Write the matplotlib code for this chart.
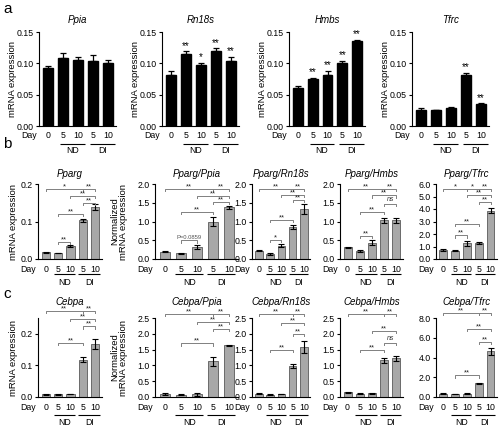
import matplotlib
matplotlib.use('Agg')
import matplotlib.pyplot as plt
import matplotlib.ticker as mticker

plt.rcParams['font.family'] = ['Liberation Sans', 'DejaVu Sans']

W, H = 500, 426

days = ['0', '5', '10', '5', '10']
group_labels = ['ND', 'DI']

# ---------------- panel a (reference genes) ----------------
a_titles = ['Ppia', 'Rn18s', 'Hmbs', 'Tfrc']
a_means = [
    [0.092, 0.108, 0.105, 0.104, 0.100],
    [0.082, 0.115, 0.097, 0.120, 0.104],
    [0.061, 0.075, 0.082, 0.100, 0.135],
    [0.026, 0.025, 0.028, 0.081, 0.035],
]
a_errs = [
    [0.003, 0.008, 0.005, 0.010, 0.006],
    [0.006, 0.004, 0.004, 0.004, 0.006],
    [0.003, 0.002, 0.006, 0.004, 0.002],
    [0.002, 0.001, 0.003, 0.004, 0.001],
]
a_stars = [
    ['', '', '', '', ''],
    ['', '**', '*', '**', '**'],
    ['', '**', '**', '**', '**'],
    ['', '', '', '**', '**'],
]

# ---------------- panel b (Pparg) ----------------
b_titles = ['Pparg', 'Pparg/Ppia', 'Pparg/Rn18s', 'Pparg/Hmbs', 'Pparg/Tfrc']
b_means = [
    [0.018, 0.016, 0.035, 0.103, 0.140],
    [0.20, 0.15, 0.33, 1.00, 1.38],
    [0.22, 0.13, 0.36, 0.85, 1.33],
    [0.31, 0.21, 0.44, 1.03, 1.03],
    [0.72, 0.65, 1.25, 1.27, 3.88],
]
b_errs = [
    [0.001, 0.001, 0.003, 0.005, 0.008],
    [0.02, 0.02, 0.05, 0.13, 0.04],
    [0.01, 0.02, 0.05, 0.06, 0.13],
    [0.02, 0.02, 0.07, 0.07, 0.07],
    [0.05, 0.04, 0.18, 0.08, 0.22],
]
b_brackets = [
    [(0, 3, 0.188, '*'), (3, 4, 0.188, '**'), (2, 4, 0.168, '**'),
     (3, 4, 0.150, '**'), (1, 3, 0.120, '**'), (1, 2, 0.045, '**')],
    [(0, 3, 1.87, '**'), (3, 4, 1.87, '**'), (2, 4, 1.68, '**'),
     (3, 4, 1.52, '**'), (1, 3, 1.25, '**'), (1, 2, 0.50, 'P=0.0859')],
    [(0, 3, 1.87, '**'), (3, 4, 1.87, '**'), (2, 4, 1.72, '**'),
     (3, 4, 1.57, '**'), (1, 3, 1.04, '**'), (1, 2, 0.51, '*')],
    [(0, 3, 1.87, '**'), (3, 4, 1.87, '**'), (2, 4, 1.70, '**'),
     (3, 4, 1.48, 'ns'), (1, 3, 1.25, '**'), (1, 2, 0.62, '**')],
    [(0, 2, 5.6, '*'), (2, 3, 5.6, '*'), (3, 4, 5.6, '**'), (2, 4, 5.15, '**'),
     (3, 4, 4.6, '**'), (1, 3, 2.8, '**'), (1, 2, 1.9, '**')],
]
b_ylims = [0.2, 2.0, 2.0, 2.0, 6.0]
b_ysteps = [0.1, 0.5, 0.5, 0.5, 1.0]

# ---------------- panel c (Cebpa) ----------------
c_titles = ['Cebpa', 'Cebpa/Ppia', 'Cebpa/Rn18s', 'Cebpa/Hmbs', 'Cebpa/Tfrc']
c_means = [
    [0.008, 0.008, 0.009, 0.118, 0.167],
    [0.10, 0.07, 0.08, 1.13, 1.63],
    [0.11, 0.07, 0.09, 0.98, 1.58],
    [0.15, 0.11, 0.12, 1.17, 1.22],
    [0.33, 0.32, 0.32, 1.40, 4.62],
]
c_errs = [
    [0.002, 0.001, 0.001, 0.008, 0.015],
    [0.03, 0.02, 0.06, 0.14, 0.03],
    [0.02, 0.02, 0.01, 0.06, 0.18],
    [0.02, 0.01, 0.01, 0.08, 0.09],
    [0.03, 0.03, 0.04, 0.05, 0.35],
]
c_brackets = [
    [(0, 3, 0.272, '**'), (3, 4, 0.272, '**'), (2, 4, 0.248, '**'),
     (3, 4, 0.224, '**'), (1, 3, 0.172, '**')],
    [(0, 3, 2.64, '**'), (3, 4, 2.64, '**'), (2, 4, 2.38, '**'),
     (3, 4, 2.16, '**'), (1, 3, 1.70, '**')],
    [(0, 3, 2.64, '**'), (3, 4, 2.64, '**'), (2, 4, 2.34, '**'),
     (3, 4, 2.00, '**'), (1, 3, 1.50, '**')],
    [(0, 3, 2.64, '**'), (3, 4, 2.64, '**'), (2, 4, 2.10, '**'),
     (3, 4, 1.72, 'ns'), (1, 3, 1.49, '**')],
    [(0, 3, 8.5, '**'), (3, 4, 8.5, '**'), (2, 4, 6.9, '**'),
     (3, 4, 5.6, '**'), (1, 3, 2.2, '**')],
]
c_ylims = [0.25, 2.5, 2.5, 2.5, 8.0]
c_ysteps = [0.1, 0.5, 0.5, 0.5, 2.0]

# ---------------- layout (pixels) ----------------
a_x = [(39, 116), (162, 239), (289, 365), (412, 489)]
a_y = (32, 126)
bc_x = [(38, 102), (155, 238), (252, 310), (340, 403), (436, 497)]
b_y = (184, 259)
c_y = (318, 397)

fig = plt.figure(figsize=(W / 100, H / 100), dpi=100)

BAR_GRAY = '#a8a8a8'
EDGE_GRAY = '#5a5a5a'
BRK_GRAY = '#808080'
FS_TICK = 6.3
FS_TITLE = 7.0
FS_YLAB = 6.8


def make_axes(xr, yr):
    x0, x1 = xr
    yt, yb = yr
    return fig.add_axes([x0 / W, 1 - yb / H, (x1 - x0) / W, (yb - yt) / H])


def style_axes(ax, pad_pt):
    for s in ['top', 'right']:
        ax.spines[s].set_visible(False)
    for s in ['left', 'bottom']:
        ax.spines[s].set_linewidth(0.8)
    ax.tick_params(axis='y', direction='out', length=2.5, width=0.8,
                   labelsize=FS_TICK, pad=1.5)
    ax.tick_params(axis='x', length=0, labelsize=FS_TICK, pad=pad_pt)
    ax.set_xticks(range(len(days)))
    ax.set_xticklabels(days)
    ax.set_xlim(-0.62, 4.55)
    ax.annotate('Day', xy=(0, 0), xycoords='axes fraction',
                xytext=(-1.5, -pad_pt), textcoords='offset points',
                ha='right', va='top', fontsize=FS_TICK)


def set_title_px(ax, text, center_px, yr):
    yt, yb = yr
    yfrac = 1 + (yt - center_px) / (yb - yt)
    ax.text(0.5, yfrac, text, transform=ax.transAxes, ha='center',
            va='center', fontsize=FS_TITLE, style='italic')


def group_lines(ax, y_line, y_text, lo=-0.35, hi=0.38):
    tr = ax.get_xaxis_transform()
    for k, (i, j) in enumerate([(1, 2), (3, 4)]):
        ax.plot([i + lo, j + hi], [y_line, y_line], color='black', lw=0.8,
                transform=tr, clip_on=False, solid_capstyle='butt')
        ax.text((i + j) / 2 + (lo + hi) / 2, y_text, group_labels[k],
                transform=tr, ha='center', va='center', fontsize=FS_TICK)


def draw_bracket(ax, i, j, y, label, ymax):
    h = ymax * 0.03
    ax.plot([i, i, j, j], [y - h, y, y, y - h], color=BRK_GRAY, lw=0.7,
            clip_on=False)
    if label == 'ns':
        ax.text((i + j) / 2, y + ymax * 0.005, 'ns', ha='center', va='bottom',
                fontsize=5.0, style='italic', color='#333333')
    elif label.startswith('P='):
        ax.text((i + j) / 2, y + ymax * 0.005, label, ha='center', va='bottom',
                fontsize=4.2, color='#555555')
    else:
        ax.text((i + j) / 2, y - ymax * 0.02, label, ha='center', va='bottom',
                fontsize=5.5, color='#222222')


# panel labels
fig.text(3 / W, 1 - 9 / H, 'a', fontsize=11, va='center', ha='left')
fig.text(3 / W, 1 - 144 / H, 'b', fontsize=11, va='center', ha='left')
fig.text(3 / W, 1 - 294 / H, 'c', fontsize=11, va='center', ha='left')

# ---------- draw a ----------
for k in range(4):
    ax = make_axes(a_x[k], a_y)
    style_axes(ax, 3.3)
    xs = range(len(days))
    ax.bar(xs, a_means[k], width=0.66, color='black', edgecolor='black')
    ax.errorbar(xs, a_means[k], yerr=[[0] * 5, a_errs[k]], fmt='none',
                ecolor='black', elinewidth=0.9, capsize=2.5, capthick=0.9)
    for x, m, e, s in zip(xs, a_means[k], a_errs[k], a_stars[k]):
        if s:
            ax.text(x, m + e + 0.001, s, ha='center', va='bottom', fontsize=7)
    ax.set_ylim(0, 0.15)
    ax.set_yticks([0, 0.05, 0.10, 0.15])
    ax.yaxis.set_major_formatter(mticker.FormatStrFormatter('%.2f'))
    set_title_px(ax, a_titles[k], 20, a_y)
    ax.set_ylabel('mRNA expression', fontsize=FS_YLAB, va='center')
    ax.yaxis.set_label_coords(-0.35, 0.5)
    group_lines(ax, -0.19, -0.265, lo=-0.2, hi=0.45)


def draw_row(titles, means, errs, brackets, ylims, ysteps, yrange, pad,
             yl_line, yl_text, title_px):
    for k in range(5):
        ax = make_axes(bc_x[k], yrange)
        style_axes(ax, pad)
        xs = range(len(days))
        ax.bar(xs, means[k], width=0.66, color=BAR_GRAY, edgecolor=EDGE_GRAY,
               linewidth=0.6)
        ax.errorbar(xs, means[k], yerr=errs[k], fmt='none', ecolor='black',
                    elinewidth=0.8, capsize=2.0, capthick=0.8)
        ymax = ylims[k]
        ax.set_ylim(0, ymax)
        n = int(round(ymax / ysteps[k]))
        ticks = [ysteps[k] * t for t in range(n + 1)]
        if ticks[-1] > ymax + 1e-9:
            ticks = ticks[:-1]
        ax.set_yticks(ticks)
        ax.yaxis.set_major_formatter(mticker.FormatStrFormatter('%.1f'))
        for (i, j, y, lab) in brackets[k]:
            draw_bracket(ax, i, j, y, lab, ymax)
        set_title_px(ax, titles[k], title_px, yrange)
        if k == 0:
            ax.set_ylabel('mRNA expression', fontsize=FS_YLAB, va='center')
            ax.yaxis.set_label_coords(-0.39, 0.5)
        elif k == 1:
            ax.set_ylabel('Normalized\nmRNA expression', fontsize=FS_YLAB,
                          va='center', linespacing=0.95)
            ax.yaxis.set_label_coords(-0.43, 0.5)
        group_lines(ax, yl_line, yl_text)


draw_row(b_titles, b_means, b_errs, b_brackets, b_ylims, b_ysteps, b_y, 4.0,
         -0.20, -0.31, 174)

draw_row(c_titles, c_means, c_errs, c_brackets, c_ylims, c_ysteps, c_y, 4.5,
         -0.23, -0.32, 302)

fig.savefig('out.png', dpi=100)
